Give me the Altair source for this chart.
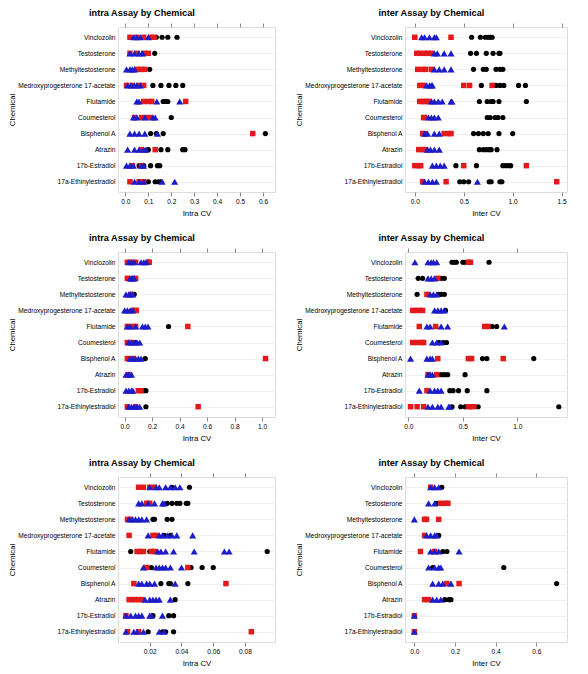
import altair as alt
import pandas as pd

CHEMS = ["Vinclozolin", "Testosterone", "Methyltestosterone",
         "Medroxyprogesterone 17-acetate", "Flutamide", "Coumesterol",
         "Bisphenol A", "Atrazin", "17b-Estradiol", "17a-Ethinylestradiol"]

# ---- panel 1: intra (top) ----
p1_black = [[0.135, 0.16, 0.185, 0.225], [0.128], [0.06, 0.106],
            [0.12, 0.155, 0.19, 0.22, 0.25], [0.165, 0.175, 0.185],
            [0.10, 0.20], [0.11, 0.135, 0.165, 0.61], [0.10, 0.155, 0.185, 0.25, 0.26],
            [0.06, 0.08, 0.11, 0.14, 0.15], [0.10, 0.13, 0.145, 0.155]]
p1_red = [[0.02, 0.05, 0.08, 0.11, 0.125], [0.02, 0.05, 0.08, 0.10], [0.05, 0.07, 0.085],
          [0.005, 0.03, 0.06, 0.08], [0.08, 0.10, 0.115, 0.263], [0.04, 0.07, 0.09, 0.11],
          [0.555], [0.07, 0.13], [0.03, 0.07], [0.02, 0.06, 0.08]]
p1_blue = [[0.035, 0.05, 0.065, 0.10], [0.02, 0.04, 0.06, 0.075], [0.005, 0.02, 0.03, 0.04],
           [0.01, 0.025, 0.04, 0.05, 0.065], [0.05, 0.06, 0.137, 0.237],
           [0.035, 0.05, 0.085, 0.12, 0.13], [0.02, 0.04, 0.06, 0.085, 0.14],
           [0.01, 0.04, 0.06, 0.08, 0.09], [0.005, 0.02, 0.035, 0.07, 0.08],
           [0.04, 0.06, 0.08, 0.16, 0.215]]

# ---- panel 2: inter (top) ----
p2_black = [[0.58, 0.67, 0.72, 0.75, 0.77, 0.79], [0.57, 0.63, 0.73, 0.80, 0.86, 0.87],
            [0.60, 0.70, 0.73, 0.83, 0.87, 0.90], [0.68, 0.83, 0.87, 0.91, 1.06, 1.13],
            [0.66, 0.74, 0.78, 0.80, 0.86, 1.14], [0.74, 0.77, 0.82, 0.85, 0.90],
            [0.60, 0.65, 0.70, 0.75, 0.86, 1.00], [0.66, 0.70, 0.73, 0.76, 0.78, 0.84],
            [0.42, 0.63, 0.90, 0.93, 0.96, 0.98], [0.46, 0.50, 0.55, 0.76, 0.78, 0.87, 0.89]]
p2_red = [[0.0, 0.37], [0.02, 0.05, 0.10, 0.13, 0.17], [0.03, 0.08, 0.11, 0.17],
          [0.05, 0.09, 0.50, 0.56, 0.79], [0.05, 0.08, 0.10, 0.13, 0.15], [0.09, 0.10],
          [0.08, 0.10, 0.30, 0.35, 0.37], [0.04, 0.08, 0.11], [0.0, 0.04, 0.06, 0.50, 1.14],
          [0.08, 0.32, 1.45]]
p2_blue = [[0.07, 0.10, 0.15, 0.20, 0.22], [0.20, 0.23, 0.30, 0.37], [0.20, 0.25, 0.30, 0.37],
           [0.12, 0.15, 0.17, 0.18], [0.17, 0.20, 0.24, 0.28, 0.37, 0.38],
           [0.14, 0.17, 0.20, 0.24], [0.10, 0.13, 0.20, 0.25], [0.13, 0.16, 0.20, 0.25],
           [0.18, 0.22, 0.26, 0.30], [0.10, 0.14, 0.18, 0.22, 0.64]]

# ---- panel 3: intra (middle) ----
p3_black = [[0.17, 0.18], [0.06], [0.07], [0.06], [0.32], [0.08], [0.15], [0.04],
            [0.14, 0.155], [0.155]]
p3_red = [[0.02, 0.05, 0.08, 0.17, 0.18], [0.02, 0.08], [0.05], [0.07, 0.085],
          [0.02, 0.06, 0.08, 0.46], [0.02, 0.05], [0.02, 0.06, 1.025], [0.03],
          [0.10, 0.12], [0.02, 0.08, 0.535]]
p3_blue = [[0.03, 0.05, 0.07, 0.12, 0.14, 0.16], [0.04, 0.05, 0.06, 0.07],
           [0.01, 0.03, 0.045, 0.06], [0.0, 0.02, 0.04, 0.06],
           [0.02, 0.04, 0.08, 0.13, 0.15, 0.17], [0.03, 0.05, 0.07, 0.09, 0.11],
           [0.04, 0.06, 0.08, 0.10, 0.12], [0.01, 0.03, 0.05], [0.01, 0.03, 0.05, 0.06],
           [0.03, 0.05, 0.07, 0.09, 0.11]]

# ---- panel 4: inter (middle) ----
p4_black = [[0.40, 0.42, 0.44, 0.50, 0.52, 0.74], [0.09, 0.13, 0.30, 0.33],
            [0.08, 0.28, 0.30, 0.33], [0.34], [0.25, 0.75, 0.77, 0.81], [0.28, 0.32, 0.35],
            [0.57, 0.68, 0.72, 1.15], [0.30, 0.33, 0.36, 0.52], [0.38, 0.41, 0.46, 0.54, 0.72],
            [0.40, 0.48, 0.52, 0.57, 0.64, 1.38]]
p4_red = [[0.55, 0.57], [0.27], [0.17], [0.04, 0.07, 0.10, 0.13], [0.10, 0.25, 0.70, 0.73],
          [0.04, 0.08, 0.12, 0.14], [0.27, 0.55, 0.58, 0.87], [0.18, 0.26], [0.17],
          [0.02, 0.08, 0.14, 0.55, 0.60]]
p4_blue = [[0.06, 0.18, 0.21, 0.23, 0.26], [0.18, 0.21, 0.24], [0.20, 0.23, 0.26],
           [0.24, 0.27, 0.30, 0.33], [0.17, 0.20, 0.30, 0.36, 0.88], [0.22, 0.26, 0.30],
           [0.02, 0.17, 0.20, 0.22], [0.18, 0.20, 0.22], [0.10, 0.20, 0.24, 0.27, 0.30],
           [0.18, 0.22, 0.27, 0.30, 0.37, 0.38]]

# ---- panel 5: intra (bottom) ----
p5_black = [[0.034, 0.045], [0.031, 0.034, 0.037, 0.039, 0.043, 0.044],
            [0.022, 0.023, 0.031, 0.034], [0.029, 0.033], [0.008, 0.020, 0.094],
            [0.021, 0.046, 0.053, 0.060], [0.027, 0.032, 0.033, 0.044], [0.036],
            [0.022, 0.032, 0.035], [0.019, 0.028, 0.030, 0.035]]
p5_red = [[0.013, 0.016, 0.020, 0.023], [0.018, 0.020], [0.006, 0.008], [0.007, 0.022, 0.024],
          [0.012, 0.014, 0.016, 0.021, 0.023], [0.018, 0.044], [0.010, 0.068],
          [0.007, 0.009, 0.011, 0.013, 0.015], [0.005], [0.006, 0.013, 0.084]]
p5_blue = [[0.020, 0.024, 0.026, 0.030, 0.033, 0.036, 0.039],
           [0.013, 0.015, 0.019, 0.023, 0.028, 0.029],
           [0.007, 0.009, 0.011, 0.013, 0.015, 0.018],
           [0.019, 0.026, 0.028, 0.031, 0.034, 0.037, 0.047],
           [0.025, 0.027, 0.030, 0.035, 0.048, 0.067, 0.070],
           [0.016, 0.024, 0.026, 0.028, 0.030, 0.033, 0.040],
           [0.013, 0.015, 0.018, 0.020, 0.023, 0.036],
           [0.017, 0.020, 0.022, 0.024, 0.026, 0.033],
           [0.005, 0.008, 0.011, 0.013, 0.015, 0.020, 0.021, 0.028],
           [0.005, 0.010, 0.012, 0.016, 0.026, 0.029]]

# ---- panel 6: inter (bottom) ----
p6_black = [[0.135], [0.11], [], [0.12], [0.14, 0.16], [0.09, 0.44], [0.70],
            [0.15, 0.17, 0.18], [], []]
p6_red = [[0.08], [0.13, 0.15, 0.165], [0.05, 0.06, 0.12], [0.05], [0.03, 0.10], [],
          [0.16, 0.22], [0.05, 0.07], [0.0], [0.0]]
p6_blue = [[0.08, 0.10, 0.12], [0.07, 0.10], [0.0], [0.06, 0.08, 0.10, 0.11],
           [0.08, 0.10, 0.12, 0.22], [0.07, 0.10, 0.12, 0.13], [0.09, 0.12, 0.14, 0.18],
           [0.09, 0.11, 0.13], [0.0], [0.0]]

FONT = "Liberation Sans"
RED = "#E31A1C"
BLUE = "#1C1CC8"


def frame(series):
    rows = []
    for chem, vals in zip(CHEMS, series):
        for v in vals:
            rows.append({"chem": chem, "cv": v})
    return pd.DataFrame(rows, columns=["chem", "cv"])


def yaxis():
    return alt.Axis(title="Chemical", grid=True, gridColor="#ececec", gridWidth=0.8,
                    domain=False, ticks=False, labelPadding=3,
                    labelFontSize=6.6, labelFont=FONT, labelColor="#000000",
                    titleFont=FONT, titleFontSize=7.8, titleFontWeight="normal",
                    titleColor="#000000", titlePadding=1, labelLimit=200)


def panel(title, xtitle, black, red, blue, domain, ticks, fmt, width):
    xs = alt.Scale(domain=domain, zero=False, nice=False)
    ys = alt.Scale(type="point", domain=CHEMS, padding=0.64)
    bottom = alt.Axis(orient="bottom", title=xtitle, values=ticks, format=fmt,
                      grid=False, domain=False, ticks=True, tickSize=4,
                      tickColor="#888888", labelFontSize=6.6, labelFont=FONT,
                      labelColor="#000000", labelPadding=2, titleFont=FONT,
                      titleFontSize=7.8, titleFontWeight="normal", titleColor="#000000",
                      titlePadding=5)
    top = alt.Axis(orient="top", title=None, values=ticks, labels=False, grid=False,
                   domain=False, ticks=True, tickSize=4, tickColor="#888888")
    lb = alt.Chart(frame(black)).mark_point(filled=True, shape="circle", size=27,
                                            color="#000000", opacity=1).encode(
        x=alt.X("cv:Q", scale=xs, axis=bottom),
        y=alt.Y("chem:N", scale=ys, sort=CHEMS, axis=yaxis()))
    lr = alt.Chart(frame(red)).mark_point(filled=True, shape="square", size=30,
                                          color=RED, opacity=1).encode(
        x=alt.X("cv:Q", scale=xs, axis=None),
        y=alt.Y("chem:N", scale=ys, sort=CHEMS, axis=yaxis()))
    lbl = alt.Chart(frame(blue)).mark_point(filled=True, shape="triangle-up", size=50,
                                            color=BLUE, opacity=1).encode(
        x=alt.X("cv:Q", scale=xs, axis=top),
        y=alt.Y("chem:N", scale=ys, sort=CHEMS, axis=yaxis()))
    return alt.layer(lb, lr, lbl).resolve_axis(x="independent", y="shared").properties(
        width=width, height=165,
        title=alt.TitleParams(title, font=FONT, fontSize=9.2, fontWeight="bold",
                              color="#000000", anchor="middle", frame="bounds",
                              offset=4))


c1 = panel("intra Assay by Chemical", "Intra CV", p1_black, p1_red, p1_blue,
           [-0.032, 0.652], [0.0, 0.1, 0.2, 0.3, 0.4, 0.5, 0.6], ".1f", 157)
c2 = panel("inter Assay by Chemical", "Inter CV", p2_black, p2_red, p2_blue,
           [-0.10, 1.555], [0.0, 0.5, 1.0, 1.5], ".1f", 162)
c3 = panel("intra Assay by Chemical", "Intra CV", p3_black, p3_red, p3_blue,
           [-0.048, 1.094], [0.0, 0.2, 0.4, 0.6, 0.8, 1.0], ".1f", 157)
c4 = panel("inter Assay by Chemical", "Inter CV", p4_black, p4_red, p4_blue,
           [-0.031, 1.455], [0.0, 0.5, 1.0], ".1f", 162)
c5 = panel("intra Assay by Chemical", "Intra CV", p5_black, p5_red, p5_blue,
           [0.0, 0.0989], [0.02, 0.04, 0.06, 0.08], ".2f", 157)
c6 = panel("inter Assay by Chemical", "Inter CV", p6_black, p6_red, p6_blue,
           [-0.046, 0.751], [0.0, 0.2, 0.4, 0.6], ".1f", 162)

chart = alt.vconcat(
    alt.hconcat(c1, c2, spacing=19),
    alt.hconcat(c3, c4, spacing=19),
    alt.hconcat(c5, c6, spacing=19),
    spacing=15,
).properties(
    padding={"left": 0, "top": 0, "right": 0, "bottom": 0}
).configure_view(
    stroke="#888888", strokeWidth=1
).configure(background="#ffffff")

chart.save("out.html", embed_options={"renderer": "svg", "actions": False})
